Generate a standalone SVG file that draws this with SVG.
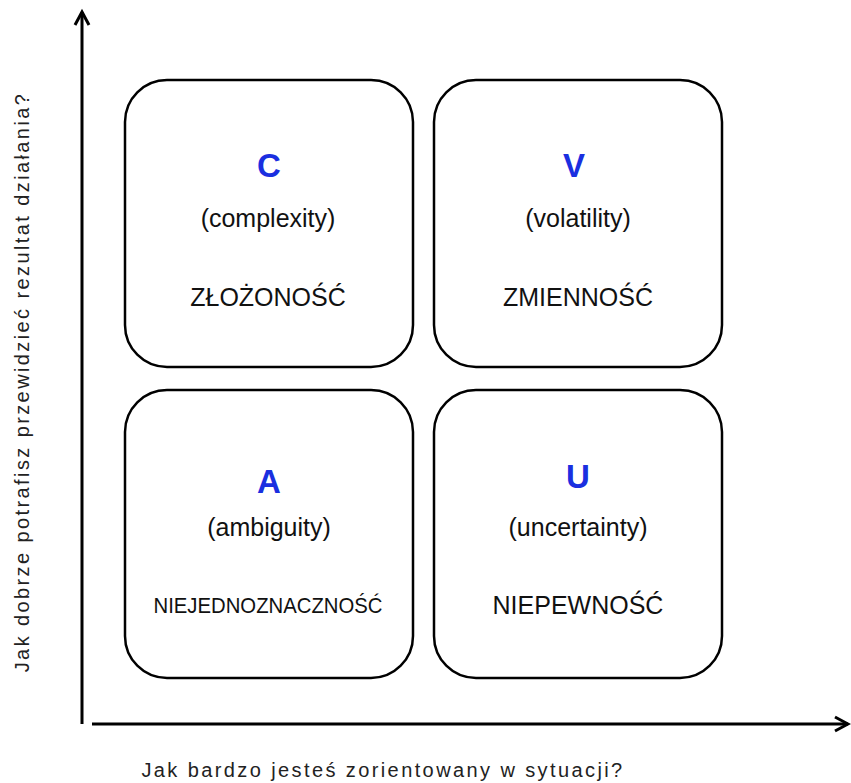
<svg xmlns="http://www.w3.org/2000/svg" width="851" height="783" viewBox="0 0 851 783">
<style>
.box{fill:#fff;stroke:#000;stroke-width:2.5}
.t{font-family:"Liberation Sans",Arial,sans-serif;text-anchor:middle;fill:#111}
.L{font-weight:bold;font-size:33px;fill:#1a2fe0}
.en{font-size:25px}
.pl{font-size:25px}
.ax{font-family:"Liberation Sans",Arial,sans-serif;font-size:20px;fill:#222;text-anchor:middle;letter-spacing:2.4px}
.axis{fill:none;stroke:#000;stroke-width:3}
</style>
<rect width="851" height="783" fill="#fff"/>
<g id="connectors">
<path class="axis" d="M82,724 V12"/>
<polyline class="axis" points="75,25 82,12 89,25"/>
<path class="axis" d="M92,724 H848"/>
<polyline class="axis" points="835,717 848,724 835,731"/>
</g>
<g id="C">
<rect class="box" x="125" y="80" width="288" height="287" rx="42"/>
<text class="t L" x="269" y="177">C</text>
<text class="t en" x="268" y="227">(complexity)</text>
<text class="t pl" x="268" y="306">ZŁOŻONOŚĆ</text>
</g>
<g id="V">
<rect class="box" x="434" y="80" width="288" height="287" rx="42"/>
<text class="t L" x="574" y="177">V</text>
<text class="t en" x="578" y="227">(volatility)</text>
<text class="t pl" x="578" y="306">ZMIENNOŚĆ</text>
</g>
<g id="A">
<rect class="box" x="125" y="390" width="288" height="288" rx="42"/>
<text class="t L" x="269" y="493">A</text>
<text class="t en" x="269" y="536">(ambiguity)</text>
<text class="t" x="268" y="613" font-size="22" textLength="229" lengthAdjust="spacingAndGlyphs">NIEJEDNOZNACZNOŚĆ</text>
</g>
<g id="U">
<rect class="box" x="434" y="390" width="288" height="288" rx="42"/>
<text class="t L" x="578" y="488">U</text>
<text class="t en" x="578" y="536">(uncertainty)</text>
<text class="t pl" x="578" y="614">NIEPEWNOŚĆ</text>
</g>
<text class="ax" transform="translate(29,382) rotate(-90)">Jak dobrze potrafisz przewidzieć rezultat działania?</text>
<text class="ax" x="383" y="777">Jak bardzo jesteś zorientowany w sytuacji?</text>
</svg>
